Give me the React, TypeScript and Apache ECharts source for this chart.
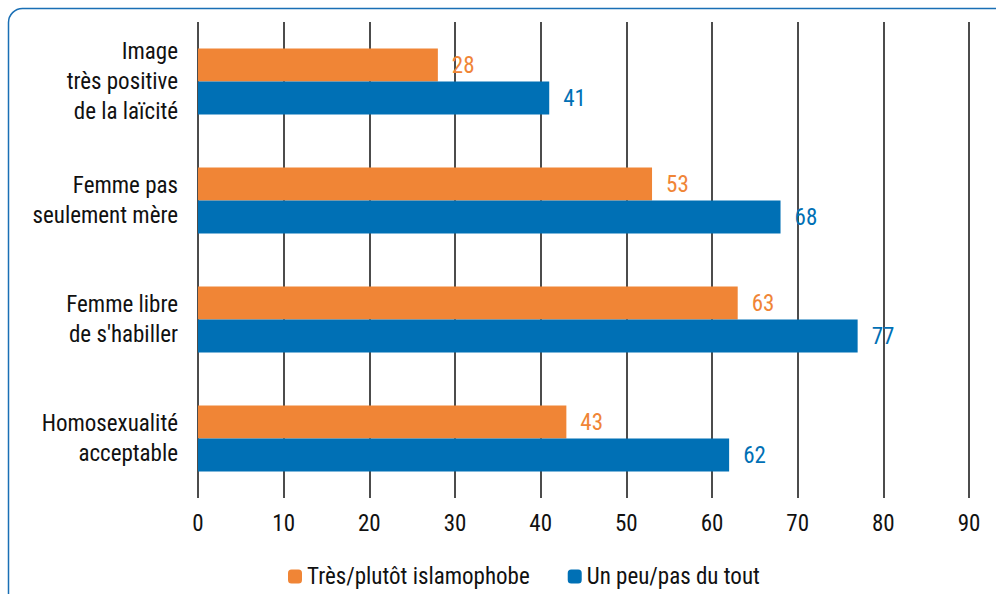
import React, { useEffect, useRef } from "react";
import * as echarts from "echarts";

const categories = [
  "Image\ntrès positive\nde la laïcité",
  "Femme pas\nseulement mère",
  "Femme libre\nde s'habiller",
  "Homosexualité\nacceptable",
];
const seriesNames = ["Très/plutôt islamophobe", "Un peu/pas du tout"];
const islamophobe = [28, 53, 63, 43];
const pasDuTout = [41, 68, 77, 62];

const ORANGE = "#F08536";
const BLUE = "#0070B5";
const FONT = "'Liberation Sans Narrow', 'Roboto Condensed', Roboto, sans-serif";
const FS = 23;

export default function App() {
  const ref = useRef<HTMLDivElement>(null);
  useEffect(() => {
    const chart = echarts.init(ref.current!, null, { renderer: "svg" });
    chart.setOption({
      animation: false,
      textStyle: { fontFamily: FONT },
      graphic: [
        {
          type: "rect",
          shape: { x: 8.5, y: 8.5, width: 1000, height: 600, r: 14 },
          style: { fill: "none", stroke: "#1A6FB5", lineWidth: 1.5 },
          z: 0,
        },
      ],
      legend: {
        left: 283,
        top: 560,
        itemWidth: 14,
        itemHeight: 14,
        itemGap: 38,
        textStyle: { fontFamily: FONT, fontSize: FS, color: "#111" },
        data: seriesNames,
      },
      grid: { left: 198, right: 27, top: 22, bottom: 96, containLabel: false },
      xAxis: {
        type: "value",
        min: 0,
        max: 90,
        interval: 10,
        axisLine: { show: false },
        axisTick: { show: false },
        axisLabel: { fontFamily: FONT, fontSize: FS, color: "#111", margin: 14 },
        splitLine: { show: true, lineStyle: { color: "#111", width: 1.5 } },
      },
      yAxis: {
        type: "category",
        inverse: true,
        data: categories,
        axisLine: { show: false },
        axisTick: { show: false },
        axisLabel: {
          fontFamily: FONT,
          fontSize: FS,
          color: "#111",
          lineHeight: 30,
          align: "right",
          margin: 20,
        },
      },
      series: [
        {
          name: seriesNames[0],
          type: "bar",
          data: islamophobe,
          barWidth: 33,
          barGap: "0%",
          itemStyle: { color: ORANGE },
          label: {
            show: true,
            position: "right",
            distance: 14,
            color: ORANGE,
            fontFamily: FONT,
            fontSize: FS,
          },
        },
        {
          name: seriesNames[1],
          type: "bar",
          data: pasDuTout,
          barWidth: 33,
          barGap: "0%",
          itemStyle: { color: BLUE },
          label: {
            show: true,
            position: "right",
            distance: 14,
            color: BLUE,
            fontFamily: FONT,
            fontSize: FS,
          },
        },
      ],
    });
    return () => chart.dispose();
  }, []);
  return (
    <div
      ref={ref}
      style={{ position: "fixed", left: 0, top: 0, width: 996, height: 594, background: "#fff" }}
    />
  );
}
